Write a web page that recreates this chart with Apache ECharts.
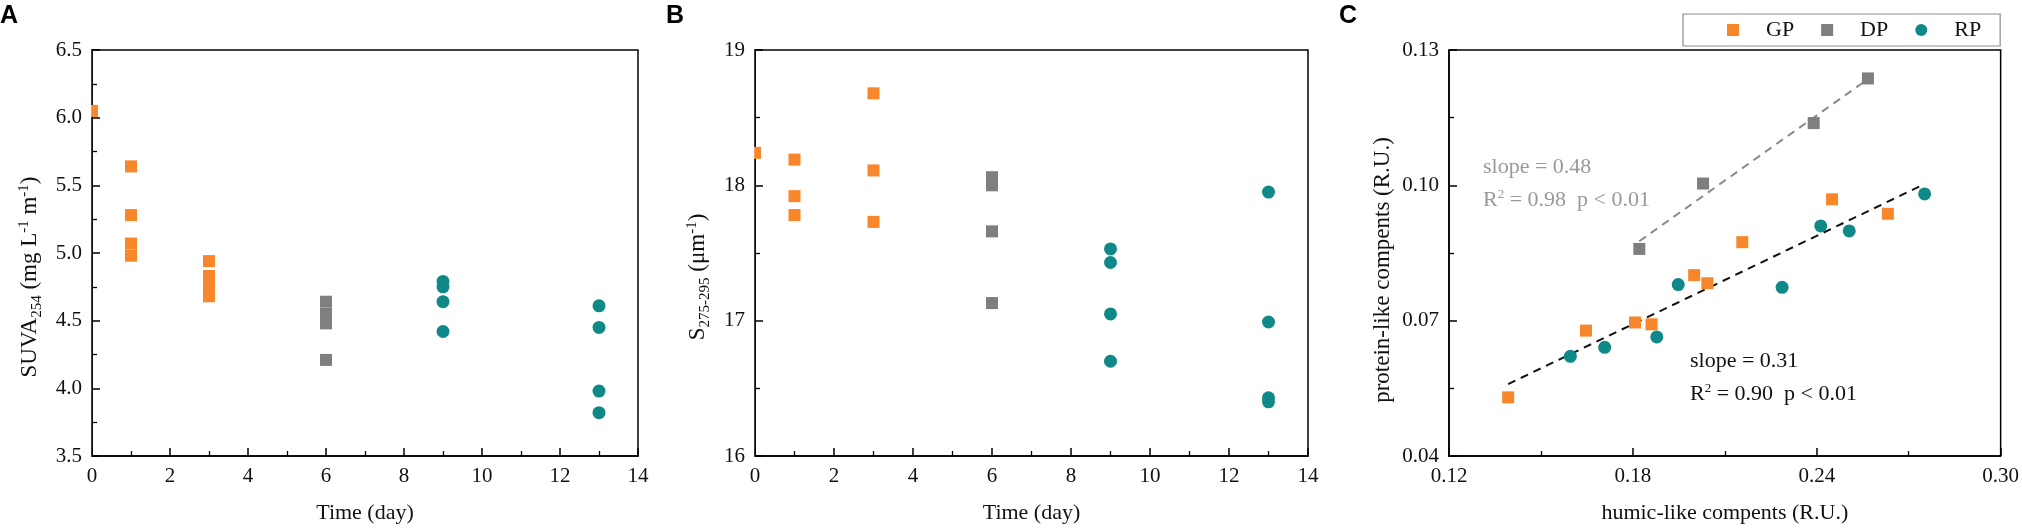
<!DOCTYPE html>
<html>
<head>
<meta charset="utf-8">
<title>SUVA / slope / fluorescence components</title>
<script src="https://cdn.jsdelivr.net/npm/echarts@6/dist/echarts.min.js"></script>
<style>
  html, body { margin: 0; padding: 0; background: #fff; }
  #chart { width: 2022px; height: 529px; }
</style>
</head>
<body>
<div id="chart"></div>
<script>
// ---- data ----
// A: SUVA254 vs time (day)
const suvaGP = [[0, 6.05], [1, 5.64], [1, 5.28], [1, 5.07], [1, 4.98], [3, 4.94], [3, 4.83], [3, 4.76], [3, 4.68]];
const suvaDP = [[6, 4.64], [6, 4.55], [6, 4.48], [6, 4.21]];
const suvaRP = [[9, 4.79], [9, 4.75], [9, 4.64], [9, 4.42], [13, 4.61], [13, 4.45], [13, 3.98], [13, 3.82]];

// B: S275-295 vs time (day)
const slopeGP = [[0, 18.24], [1, 18.19], [1, 17.92], [1, 17.78], [3, 18.68], [3, 18.11], [3, 17.73]];
const slopeDP = [[6, 18.06], [6, 18.00], [6, 17.66], [6, 17.13]];
const slopeRP = [[9, 17.53], [9, 17.43], [9, 17.05], [9, 16.70], [13, 17.95], [13, 16.99], [13, 16.43], [13, 16.40]];

// C: protein-like vs humic-like components (R.U.)
const compGP = [[0.1393, 0.0530], [0.1647, 0.0678], [0.1807, 0.0696], [0.1861, 0.0692], [0.2000, 0.0801],
                [0.2043, 0.0783], [0.2157, 0.0874], [0.2450, 0.0969], [0.2632, 0.0937]];
const compDP = [[0.1821, 0.0859], [0.2029, 0.1004], [0.2390, 0.1138], [0.2567, 0.1237]];
const compRP = [[0.1596, 0.0621], [0.1708, 0.0641], [0.1878, 0.0664], [0.1948, 0.0780], [0.2287, 0.0774],
                [0.2413, 0.0910], [0.2506, 0.0899], [0.2752, 0.0981]];

const groupNames = ['GP', 'DP', 'RP'];
const fitLabelsDP = ['slope = 0.48', '0.98', 'p < 0.01'];
const fitLabelsAll = ['slope = 0.31', '0.90', 'p < 0.01'];

// ---- styles ----
const serif = "'Liberation Serif', 'Times New Roman', serif";
const sans = "'Liberation Sans', Arial, sans-serif";
const cOrange = '#F7872A';
const cGrey = '#7F7F7F';
const cTeal = '#0E8987';
const grids = [
  { left: 92, right: 1384, top: 50, bottom: 72 },
  { left: 755, right: 714, top: 50, bottom: 72 },
  { left: 1449, right: 20, top: 50, bottom: 72 }
];

// least squares line over the x range of the points
function fitLine(points) {
  const n = points.length;
  let sx = 0, sy = 0, sxx = 0, sxy = 0;
  points.forEach(p => { sx += p[0]; sy += p[1]; sxx += p[0] * p[0]; sxy += p[0] * p[1]; });
  const b = (n * sxy - sx * sy) / (n * sxx - sx * sx);
  const a = (sy - b * sx) / n;
  const xs = points.map(p => p[0]);
  const x0 = Math.min(...xs), x1 = Math.max(...xs);
  return [[x0, a + b * x0], [x1, a + b * x1]];
}

const richName = {
  t: { fontFamily: serif, fontSize: 23, color: '#111', lineHeight: 25 },
  sub: { fontFamily: serif, fontSize: 15, color: '#111', verticalAlign: 'bottom', lineHeight: 15, padding: [0, 0, -3, 0] },
  sup: { fontFamily: serif, fontSize: 15, color: '#111', verticalAlign: 'top', lineHeight: 15 }
};

function axis(kind, gridIndex, min, max, interval, decimals, name, nameGap, shift) {
  return {
    type: 'value',
    gridIndex: gridIndex,
    min: min,
    max: max,
    interval: interval,
    name: name,
    nameLocation: 'middle',
    nameGap: nameGap,
    nameRotate: kind === 'y' ? 90 : 0,
    nameTextStyle: {
      fontFamily: serif, fontSize: 22, color: '#111',
      padding: kind === 'y' ? [0, shift, 0, 0] : 0,
      rich: richName
    },
    axisLine: { show: true, onZero: false, lineStyle: { color: '#000', width: 1.5 } },
    axisTick: { show: true, inside: true, length: 8, lineStyle: { color: '#000', width: 1.5 } },
    minorTick: { show: true, splitNumber: 2, length: 5, lineStyle: { color: '#000', width: 1.3 } },
    splitLine: { show: false },
    axisLabel: {
      fontFamily: serif, fontSize: 21, color: '#111', margin: 10,
      formatter: v => v.toFixed(decimals)
    }
  };
}

function scatter(name, data, gi, symbol, color) {
  return {
    type: 'scatter', name: name, data: data,
    xAxisIndex: gi, yAxisIndex: gi,
    symbol: symbol, symbolSize: symbol === 'circle' ? 13 : 12,
    itemStyle: { color: color, opacity: 1 },
    emphasis: { disabled: true }, z: 3
  };
}

function dashed(name, points, color) {
  return {
    type: 'line', name: name, data: fitLine(points),
    xAxisIndex: 2, yAxisIndex: 2, symbol: 'none', silent: true,
    lineStyle: { color: color, width: 2, type: [8, 6] }, z: 2
  };
}

function panelLabel(text, x) {
  return { type: 'text', left: x, top: 4, style: { text: text, font: 'bold 25px ' + sans, fill: '#000' } };
}

// white strip hiding the half of a marker that falls left of the y axis
function clipStrip(g) {
  return { type: 'rect', z: 100, shape: { x: g.left - 7.6, y: g.top, width: 6.8, height: 529 - g.top - g.bottom },
    style: { fill: '#fff' }, silent: true };
}

function fitText(labels, x, y, color) {
  const rich = {
    a: { fontFamily: serif, fontSize: 22, fill: color, lineHeight: 24 },
    s: { fontFamily: serif, fontSize: 13, fill: color, verticalAlign: 'top', lineHeight: 13 }
  };
  return [
    { type: 'text', z: 50, left: x, top: y - 12, style: { text: labels[0], font: '22px ' + serif, fill: color } },
    { type: 'text', z: 50, left: x, top: y + 20, style: { text: '{a|R}{s|2}{a| = ' + labels[1] + '  ' + labels[2] + '}', rich: rich, fill: color } }
  ];
}

const chart = echarts.init(document.getElementById('chart'));

chart.setOption({
  backgroundColor: '#fff',
  animation: false,
  grid: grids.map(g => Object.assign({ show: true, borderColor: '#000', borderWidth: 1.5, backgroundColor: 'transparent' }, g)),
  xAxis: [
    axis('x', 0, 0, 14, 2, 0, 'Time (day)', 46),
    axis('x', 1, 0, 14, 2, 0, 'Time (day)', 46),
    axis('x', 2, 0.12, 0.30, 0.06, 2, 'humic-like compents (R.U.)', 46)
  ],
  yAxis: [
    axis('y', 0, 3.5, 6.5, 0.5, 1, '{t|SUVA}{sub|254}{t| (mg L}{sup|-1}{t| m}{sup|-1}{t|)}', 50, 48),
    axis('y', 1, 16, 19, 1, 0, '{t|S}{sub|275-295}{t| (μm}{sup|-1}{t|)}', 45, 48),
    axis('y', 2, 0.04, 0.13, 0.03, 2, '{t|protein-like compents (R.U.)}', 54, 34)
  ],
  legend: {
    left: 1683, top: 14,
    data: [{ name: 'GP', icon: 'rect' }, { name: 'DP', icon: 'rect' }, { name: 'RP', icon: 'circle' }],
    itemWidth: 12, itemHeight: 12, itemGap: 27,
    padding: [5, 19, 5, 44],
    borderColor: '#8c8c8c', borderWidth: 1.2,
    selectedMode: false,
    textStyle: { fontFamily: serif, fontSize: 22, color: '#111', padding: [0, 0, 0, 22] }
  },
  series: [
    scatter(groupNames[0], suvaGP, 0, 'rect', cOrange),
    scatter(groupNames[1], suvaDP, 0, 'rect', cGrey),
    scatter(groupNames[2], suvaRP, 0, 'circle', cTeal),
    scatter(groupNames[0], slopeGP, 1, 'rect', cOrange),
    scatter(groupNames[1], slopeDP, 1, 'rect', cGrey),
    scatter(groupNames[2], slopeRP, 1, 'circle', cTeal),
    dashed('fit DP', compDP, '#8a8a8a'),
    dashed('fit all', compGP.concat(compRP), '#111'),
    scatter(groupNames[0], compGP, 2, 'rect', cOrange),
    scatter(groupNames[1], compDP, 2, 'rect', cGrey),
    scatter(groupNames[2], compRP, 2, 'circle', cTeal)
  ],
  graphic: [
    panelLabel('A', 0),
    panelLabel('B', 666),
    panelLabel('C', 1339),
    clipStrip(grids[0]),
    clipStrip(grids[1])
  ].concat(fitText(fitLabelsDP, 1483, 168, '#999999'), fitText(fitLabelsAll, 1690, 362, '#111'))
});
</script>
</body>
</html>
